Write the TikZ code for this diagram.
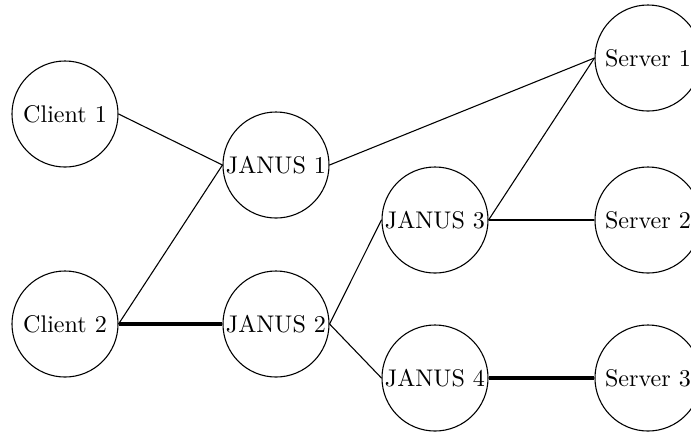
\documentclass[tikz,border=0pt]{standalone}
\begin{document}
\begin{tikzpicture}[x=0.415pt,y=-0.415pt,
  host/.style={draw,circle,line width=0.45pt,inner sep=0pt,minimum size=44pt},
  link/.style={line width=0.45pt},
  fat/.style={line width=1.4pt}]
\useasboundingbox (0,0) rectangle (691,432);
% hosts
\node[host] (c1) at (65,114) {Client 1};
\node[host] (c2) at (65,324) {Client 2};
\node[host] (j1) at (276,165) {JANUS 1};
\node[host] (j2) at (276,324) {JANUS 2};
\node[host] (j3) at (435,220) {JANUS 3};
\node[host] (j4) at (435,378) {JANUS 4};
\node[host] (s1) at (648,58) {Server 1};
\node[host] (s2) at (648,220) {Server 2};
\node[host] (s3) at (648,378) {Server 3};
% links
\draw[link] (c1.east) -- (j1.west);
\draw[link] (c2.east) -- (j1.west);
\draw[fat] (c2.east) -- (j2.west);
\draw[link] (j1.east) -- (s1.west);
\draw[link] (j2.east) -- (j3.west);
\draw[link] (j2.east) -- (j4.west);
\draw[link] (j3.east) -- (s1.west);
\draw[link] (j3.east) -- (s2.west);
\draw[fat] (j4.east) -- (s3.west);
\end{tikzpicture}
\end{document}
